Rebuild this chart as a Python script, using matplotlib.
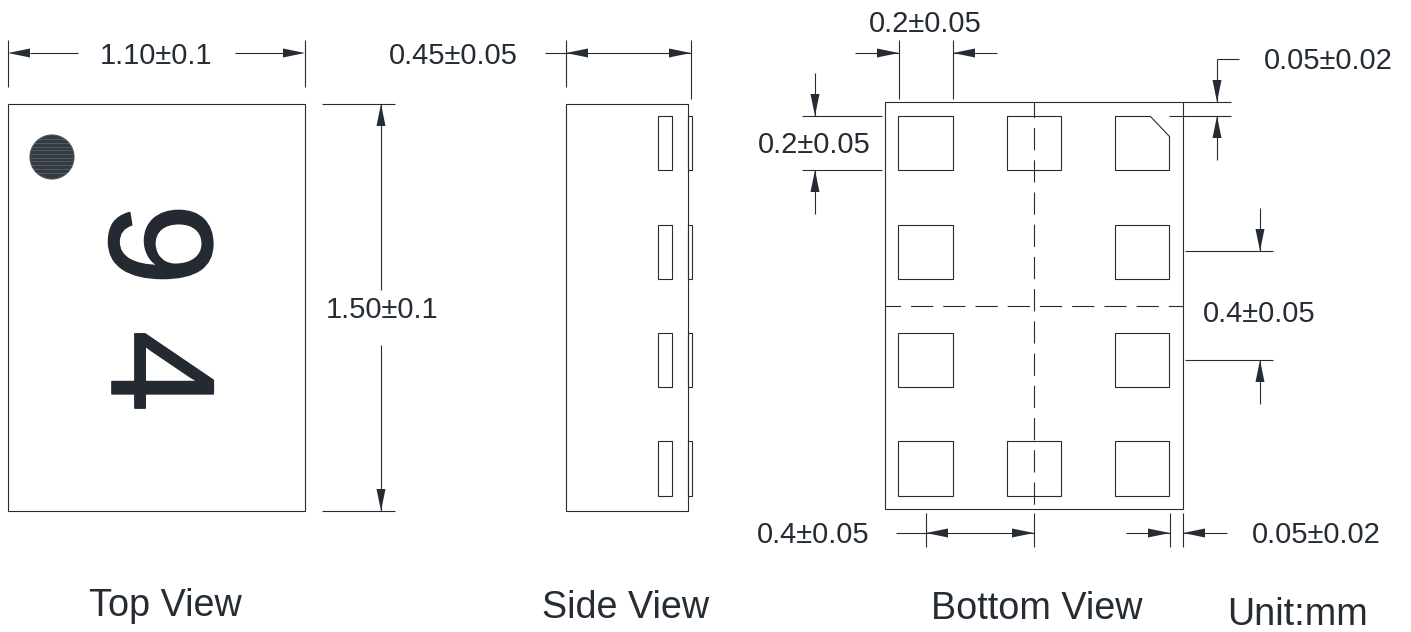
import matplotlib
matplotlib.use("Agg")
import numpy as np
import matplotlib.pyplot as plt
import matplotlib.patheffects as pe
from matplotlib.patches import Rectangle, Circle, Polygon

plt.rcParams['font.family'] = ['Liberation Sans', 'DejaVu Sans']

INK = '#262c34'
LW = 0.8

# everything is in pixels of the drawing, y pointing down
body_top = (8, 104, 305, 511)
body_side = (566, 104, 688, 511)
body_bottom = (885, 102, 1183, 509)

pad_cols = [(898, 953), (1007, 1061), (1115, 1169)]
pad_rows = [(116, 170), (225, 279), (333, 387), (441, 496)]
pad_grid = [(0, 0), (1, 0), (0, 1), (2, 1), (0, 2), (2, 2), (0, 3), (1, 3), (2, 3)]
chamfer_pad = [(1115, 116), (1150, 116), (1169, 136), (1169, 170), (1115, 170)]

side_pad_x = (658, 672)
side_tab_x = (688, 692)

# extension and leader lines: x0, y0, x1, y1
lines = [
    (8, 40, 8, 87), (305, 40, 305, 87),
    (30, 53, 78, 53), (235, 53, 283, 53),
    (322, 104, 395, 104), (322, 511, 395, 511),
    (381, 104, 381, 290), (381, 345, 381, 511),
    (545, 53, 691, 53), (566, 40, 566, 87), (691, 40, 691, 99),
    (899, 40, 899, 99), (953, 40, 953, 99),
    (855, 53, 899, 53), (953, 53, 997, 53),
    (802, 116, 882, 116), (802, 170, 882, 170),
    (815, 73, 815, 116), (815, 170, 815, 214),
    (1183, 102, 1231, 102), (1169, 116, 1231, 116),
    (1239, 59, 1217, 59), (1217, 59, 1217, 102), (1217, 116, 1217, 160),
    (1185, 251, 1273, 251), (1185, 360, 1273, 360),
    (1260, 208, 1260, 251), (1260, 360, 1260, 404),
    (926, 513, 926, 547), (1034, 513, 1034, 547),
    (896, 533, 1034, 533),
    (1170, 513, 1170, 547), (1183, 513, 1183, 547),
    (1126, 533, 1170, 533), (1183, 533, 1227, 533),
]

# arrow tips: x, y, direction the point looks at
arrows = [
    (8, 53, 'left'), (305, 53, 'right'),
    (381, 104, 'up'), (381, 511, 'down'),
    (566, 53, 'left'), (691, 53, 'right'),
    (899, 53, 'right'), (953, 53, 'left'),
    (815, 116, 'down'), (815, 170, 'up'),
    (1217, 102, 'down'), (1217, 116, 'up'),
    (1260, 251, 'down'), (1260, 360, 'up'),
    (926, 533, 'left'), (1034, 533, 'right'),
    (1170, 533, 'right'), (1183, 533, 'left'),
]

dim_labels = ['1.10±0.1', '1.50±0.1', '0.45±0.05', '0.2±0.05', '0.05±0.02',
              '0.2±0.05', '0.4±0.05', '0.4±0.05', '0.05±0.02']
dim_x = [156.5, 382, 453.5, 925, 1328, 814, 1259, 813, 1316]
dim_y = [56, 310, 56, 24, 61, 145, 314, 535, 535]

view_labels = ['Top View', 'Side View', 'Bottom View', 'Unit:mm']
view_x = [165, 626, 1037, 1297]
view_y = [606, 608, 609, 615]

marking = ['9', '4']
marking_x = [148, 150]
marking_y = [244.5, 371.5]

dot_xy = (52, 157)
dot_r = 22
dot_hatch_y = [139, 143, 147, 150, 154, 158, 161, 165, 169, 173]

fig = plt.figure(figsize=(14.11, 6.32), dpi=100)
ax = fig.add_axes([0, 0, 1, 1])
ax.set_xlim(0, 1411)
ax.set_ylim(632, 0)
ax.axis('off')


def caja(x0, y0, x1, y1, lw=LW):
    ax.add_patch(Rectangle((x0, y0), x1 - x0, y1 - y0, fill=False, ec=INK, lw=lw))


def flecha(x, y, hacia, largo=22, ancho=4.5):
    dx, dy = {'left': (1, 0), 'right': (-1, 0), 'up': (0, 1), 'down': (0, -1)}[hacia]
    nx, ny = -dy, dx
    pts = [(x, y),
           (x + dx * largo + nx * ancho, y + dy * largo + ny * ancho),
           (x + dx * largo - nx * ancho, y + dy * largo - ny * ancho)]
    ax.add_patch(Polygon(pts, closed=True, fc=INK, ec='none'))


caja(*body_top)
caja(*body_side)
caja(*body_bottom)

for y0, y1 in pad_rows:
    caja(side_pad_x[0], y0, side_pad_x[1], y1)
    caja(side_tab_x[0], y0, side_tab_x[1], y1)

for c, r in pad_grid:
    caja(pad_cols[c][0], pad_rows[r][0], pad_cols[c][1], pad_rows[r][1])
chaflan = Polygon(chamfer_pad, closed=True, fill=False, ec=INK, lw=LW)
chaflan.set_snap(True)
ax.add_patch(chaflan)

for x0, y0, x1, y1 in lines:
    ax.plot([x0, x1], [y0, y1], color=INK, lw=LW, solid_capstyle='butt')
for x, y, hacia in arrows:
    flecha(x, y, hacia)

# center lines of the bottom view
ax.plot([1034, 1034], [102, 509], color=INK, lw=LW, ls=(6, (20, 9)))
ax.plot([885, 1183], [306, 306], color=INK, lw=LW, ls=(6, (20, 9)))

# pin 1 dot, hatched
dot = Circle(dot_xy, dot_r, fc='#333a44', ec='#4a5058', lw=LW)
ax.add_patch(dot)
for y in dot_hatch_y:
    ln, = ax.plot([dot_xy[0] - dot_r, dot_xy[0] + dot_r], [y, y], color='#666b72', lw=0.45)
    ln.set_clip_path(dot)

for s, x, y in zip(dim_labels, dim_x, dim_y):
    ax.text(x, y, s, fontsize=21, color=INK, ha='center', va='center')
for s, x, y in zip(view_labels, view_x, view_y):
    ax.text(x, y, s, fontsize=27.2, color=INK, ha='center', va='center')
for s, x, y in zip(marking, marking_x, marking_y):
    ax.text(x, y, s, fontsize=106, color='#232a32', ha='center', va='center',
            rotation=-90, rotation_mode='anchor',
            path_effects=[pe.withStroke(linewidth=1.2, foreground='#232a32')])

fig.savefig('out.png', dpi=100)
